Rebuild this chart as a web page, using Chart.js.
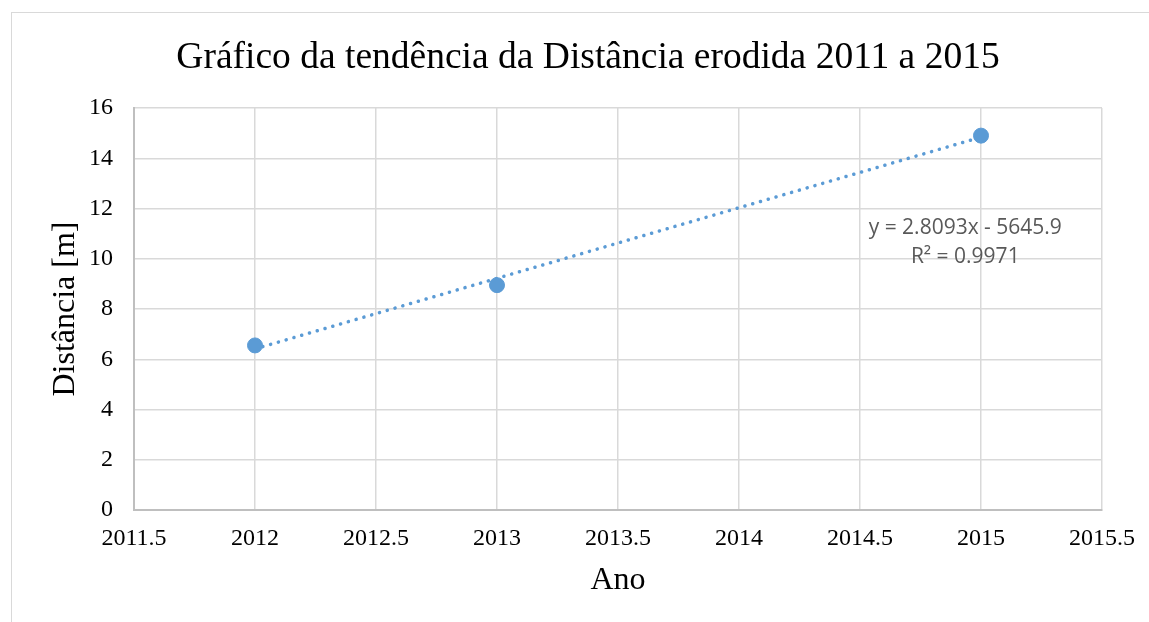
<!DOCTYPE html>
<html>
<head>
<meta charset="utf-8">
<script src="https://cdn.jsdelivr.net/npm/chart.js@4.4.1/dist/chart.umd.min.js"></script>
<style>
  html, body { margin: 0; padding: 0; background: #ffffff; }
  #wrap { position: relative; width: 1149px; height: 622px; overflow: hidden; }
  #frame { position: absolute; left: 11px; top: 12px; width: 1200px; height: 700px;
           border-left: 1px solid #d9d9d9; border-top: 1px solid #d9d9d9; box-sizing: border-box; }
  canvas { position: absolute; left: 0; top: 0; }
</style>
</head>
<body>
<div id="wrap">
  <div id="frame"></div>
  <canvas id="c" width="1149" height="622"></canvas>
</div>
<script>
// ---- data ----
const years = [2012, 2013, 2015];
const distances = [6.55, 8.95, 14.9];
const trendSlope = 2.8093;
const trendIntercept = -5645.9;
const trendLabels = ["y = 2.8093x - 5645.9", "R\u00b2 = 0.9971"];
const xTicks = [2011.5, 2012, 2012.5, 2013, 2013.5, 2014, 2014.5, 2015, 2015.5];
const yTicks = [0, 2, 4, 6, 8, 10, 12, 14, 16];
const chartTitle = "Gr\u00e1fico da tend\u00eancia da Dist\u00e2ncia erodida 2011 a 2015";
const xTitle = "Ano";
const yTitle = "Dist\u00e2ncia [m]";

const blue = "#5b9bd5";
const serif = "'Liberation Serif', 'Times New Roman', serif";

const points = years.map((x, i) => ({ x: x, y: distances[i] }));
const tStart = years[0], tEnd = years[years.length - 1];
const trendPoints = [tStart, tEnd].map(x => ({ x: x, y: trendSlope * x + trendIntercept }));

const equationPlugin = {
  id: 'equation',
  afterDatasetsDraw(chart) {
    const ctx = chart.ctx;
    const xs = chart.scales.x, ys = chart.scales.y;
    const cx = xs.getPixelForValue(2014.935);
    ctx.save();
    ctx.fillStyle = "#595959";
    ctx.font = "21px 'Open Sans', 'Noto Sans', sans-serif";
    ctx.textAlign = "center";
    ctx.textBaseline = "middle";
    ctx.fillText(trendLabels[0], cx, ys.getPixelForValue(11.22));
    ctx.fillText(trendLabels[1], cx, ys.getPixelForValue(10.06));
    ctx.restore();
  }
};

const LEFT_PAD = 74;

new Chart(document.getElementById('c'), {
  type: 'scatter',
  data: {
    datasets: [
      {
        label: 'Distância',
        data: points,
        backgroundColor: blue,
        borderColor: blue,
        pointRadius: 7.5,
        pointHoverRadius: 7.5,
        showLine: false,
        order: 0
      },
      {
        label: 'Tendência',
        data: trendPoints,
        showLine: true,
        borderColor: blue,
        borderWidth: 3.5,
        borderDash: [0.1, 8],
        borderCapStyle: 'round',
        pointRadius: 0,
        fill: false,
        order: 1
      }
    ]
  },
  options: {
    responsive: false,
    animation: false,
    events: [],
    layout: { padding: { left: LEFT_PAD, right: 47, top: 0, bottom: 0 } },
    plugins: {
      legend: { display: false },
      tooltip: { enabled: false },
      title: {
        display: true,
        text: chartTitle,
        color: "#000000",
        font: { family: serif, size: 37.5, weight: 'normal' },
        padding: { top: 36, bottom: 27 }
      }
    },
    scales: {
      x: {
        type: 'linear',
        min: 2011.5,
        max: 2015.5,
        afterBuildTicks(scale) { scale.ticks = xTicks.map(v => ({ value: v })); },
        afterFit(scale) { scale.height = 622 - 510; },
        ticks: {
          color: "#000000",
          font: { family: serif, size: 24 },
          padding: 14,
          maxRotation: 0,
          callback: v => String(v)
        },
        grid: { color: "#d9d9d9", lineWidth: 1.5, drawTicks: false },
        border: { color: "#bfbfbf", width: 2 },
        title: {
          display: true,
          text: xTitle,
          color: "#000000",
          font: { family: serif, size: 32 },
          padding: { top: 0, bottom: 22 }
        }
      },
      y: {
        type: 'linear',
        min: 0,
        max: 16,
        afterBuildTicks(scale) { scale.ticks = yTicks.map(v => ({ value: v })); },
        afterFit(scale) { scale.width = 134 - LEFT_PAD; },
        ticks: {
          color: "#000000",
          font: { family: serif, size: 24 },
          padding: 21
        },
        grid: { color: "#d9d9d9", lineWidth: 1.5, drawTicks: false },
        border: { color: "#bfbfbf", width: 2 },
        title: {
          display: true,
          text: yTitle,
          color: "#000000",
          font: { family: serif, size: 32 },
          padding: { top: 6 - (LEFT_PAD - 40), bottom: 0 }
        }
      }
    }
  },
  plugins: [equationPlugin]
});
</script>
</body>
</html>
